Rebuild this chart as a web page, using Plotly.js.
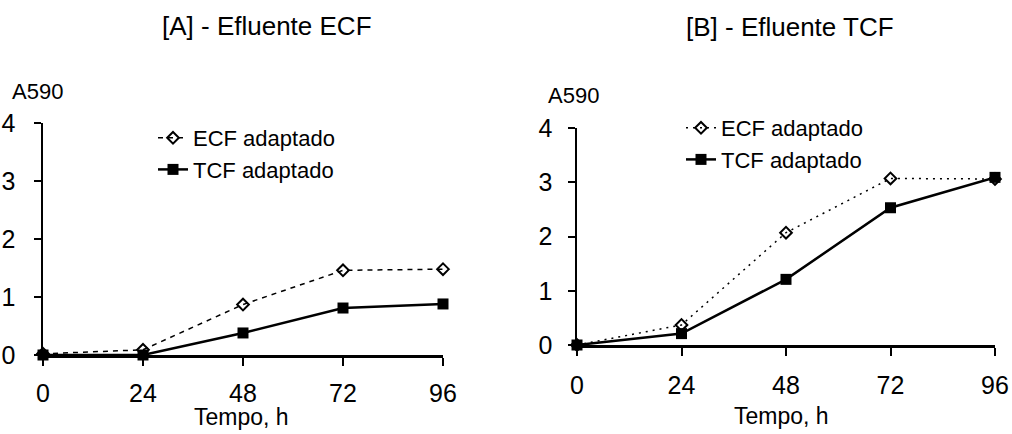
<!DOCTYPE html>
<html>
<head>
<meta charset="utf-8">
<script src="https://cdn.plot.ly/plotly-3.0.1.min.js"></script>
<style>html,body{margin:0;padding:0;background:#fff;}#chart{width:1012px;height:434px;}</style>
</head>
<body>
<div id="chart"></div>
<script>
// Data
const hours = [0, 24, 48, 72, 96];
const xTicks = [0, 24, 48, 72, 96];
const yTicks = [0, 1, 2, 3, 4];
const seriesNames = ["ECF adaptado", "TCF adaptado"];
// Panel A - Efluente ECF
const A_ecf = [0.02, 0.09, 0.87, 1.46, 1.48];
const A_tcf = [0.0, 0.0, 0.38, 0.81, 0.88];
// Panel B - Efluente TCF
const B_ecf = [0.0, 0.37, 2.07, 3.07, 3.06];
const B_tcf = [0.0, 0.21, 1.21, 2.53, 3.09];

const FONT = "Liberation Sans, Arial, sans-serif";

function ecfTrace(y, xa, ya, leg, dash) {
  return {
    x: hours, y: y, xaxis: xa, yaxis: ya, legend: leg,
    name: seriesNames[0], type: "scatter", mode: "lines+markers",
    cliponaxis: false,
    line: {color: "#000", width: 1.5, dash: dash},
    marker: {symbol: "diamond-open", size: 9, color: "#000", line: {width: 2, color: "#000"}}
  };
}
function tcfTrace(y, xa, ya, leg) {
  return {
    x: hours, y: y, xaxis: xa, yaxis: ya, legend: leg,
    name: seriesNames[1], type: "scatter", mode: "lines+markers",
    cliponaxis: false,
    line: {color: "#000", width: 2.5},
    marker: {symbol: "square", size: 11, color: "#000"}
  };
}

const traces = [
  ecfTrace(A_ecf, "x", "y", "legend", "5px,5px"),
  tcfTrace(A_tcf, "x", "y", "legend"),
  ecfTrace(B_ecf, "x2", "y2", "legend2", "2px,5px"),
  tcfTrace(B_tcf, "x2", "y2", "legend2")
];

function xax(domain, anchor, standoff) {
  return {
    domain: domain, anchor: anchor, range: [0, 96], tickvals: xTicks, ticktext: xTicks.map(String),
    showgrid: false, zeroline: false, showline: true, linecolor: "#000", linewidth: 2.5,
    ticks: "outside", ticklen: 8, tickwidth: 2, tickcolor: "#000",
    tickfont: {family: FONT, size: 25, color: "#000"}, ticklabelstandoff: standoff,
    fixedrange: true
  };
}
function yax(domain, anchor, standoff) {
  return {
    domain: domain, anchor: anchor, range: [0, 4], tickvals: yTicks, ticktext: yTicks.map(String),
    showgrid: false, zeroline: false, showline: true, linecolor: "#000", linewidth: 2.5,
    ticks: "outside", ticklen: 7, tickwidth: 2, tickcolor: "#000",
    tickfont: {family: FONT, size: 25, color: "#000"}, ticklabelstandoff: standoff,
    fixedrange: true
  };
}

const W = 1012, H = 434;
const legendStyle = {
  bgcolor: "rgba(0,0,0,0)", borderwidth: 0,
  font: {family: FONT, size: 22, color: "#000"},
  tracegroupgap: 0, xanchor: "left", yanchor: "top"
};

const layout = {
  width: W, height: H,
  margin: {l: 0, r: 0, t: 0, b: 0},
  paper_bgcolor: "#fff", plot_bgcolor: "#fff",
  showlegend: true,
  xaxis: xax([43 / W, 443 / W], "y", 6),
  yaxis: yax([(H - 355) / H, (H - 123) / H], "x", 13),
  xaxis2: xax([577 / W, 995 / W], "y2", 8),
  yaxis2: yax([(H - 345) / H, (H - 128) / H], "x2", 10),
  legend: Object.assign({}, legendStyle, {x: 153 / W, y: 1 - 117 / H}),
  legend2: Object.assign({}, legendStyle, {x: 681 / W, y: 1 - 107 / H}),
  annotations: [
    {text: "[A] - Efluente ECF", xref: "paper", yref: "paper", x: 267 / W, y: 1 - 26 / H,
     showarrow: false, xanchor: "center", yanchor: "middle", font: {family: FONT, size: 26, color: "#000"}},
    {text: "[B] - Efluente TCF", xref: "paper", yref: "paper", x: 790 / W, y: 1 - 27 / H,
     showarrow: false, xanchor: "center", yanchor: "middle", font: {family: FONT, size: 26, color: "#000"}},
    {text: "A590", xref: "paper", yref: "paper", x: 10 / W, y: 1 - 92 / H,
     showarrow: false, xanchor: "left", yanchor: "middle", font: {family: FONT, size: 22, color: "#000"}},
    {text: "A590", xref: "paper", yref: "paper", x: 546 / W, y: 1 - 95 / H,
     showarrow: false, xanchor: "left", yanchor: "middle", font: {family: FONT, size: 22, color: "#000"}},
    {text: "Tempo, h", xref: "paper", yref: "paper", x: 241 / W, y: 0, yshift: 2,
     showarrow: false, xanchor: "center", yanchor: "bottom", font: {family: FONT, size: 23, color: "#000"}},
    {text: "Tempo, h", xref: "paper", yref: "paper", x: 781 / W, y: 0, yshift: 3,
     showarrow: false, xanchor: "center", yanchor: "bottom", font: {family: FONT, size: 23, color: "#000"}}
  ]
};

Plotly.newPlot("chart", traces, layout, {staticPlot: true, displayModeBar: false});
</script>
</body>
</html>
